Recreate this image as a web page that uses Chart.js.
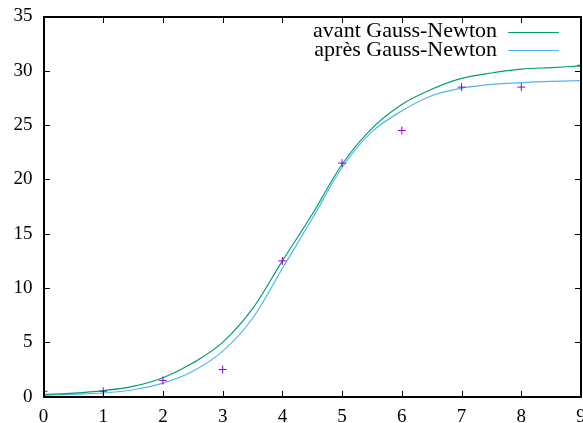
<!DOCTYPE html>
<html>
<head>
<meta charset="utf-8">
<script src="https://cdn.jsdelivr.net/npm/chart.js@4"></script>
<style>
  html, body { margin: 0; padding: 0; background: #fff; overflow: hidden; }
  #wrap { width: 586px; height: 423px; }
</style>
</head>
<body>
<div id="wrap"><canvas id="gn_chart" width="586" height="423"></canvas></div>
<script>
// mesures
let xMes = [0, 1, 2, 3, 4, 5, 6, 7, 8, 9];
let yMes = [0.5, 0.5, 1.5, 2.5, 12.5, 21.5, 24.5, 28.5, 28.5, 30.5];

// courbes lues sur l'image, pas de 0.5
let xCourbe = [0, 0.5, 1, 1.5, 2, 2.5, 3, 3.5, 4, 4.5, 5, 5.5, 6, 6.5, 7, 7.5, 8, 8.5, 9];
let yAvant = [0.2, 0.33, 0.56, 0.95, 1.75, 3.1, 5.0, 8.1, 12.5, 16.8, 21.4, 24.7, 26.9, 28.3, 29.3, 29.8, 30.15, 30.3, 30.45];
let yApres = [0.15, 0.22, 0.34, 0.64, 1.25, 2.35, 4.2, 7.2, 11.8, 16.4, 21.1, 24.4, 26.3, 27.7, 28.4, 28.75, 28.92, 29.03, 29.1];

let xTicks = [1, 2, 3, 4, 5, 6, 7, 8];
let yTicks = [5, 10, 15, 20, 25, 30];

let labels = ['', 'avant Gauss-Newton', 'après Gauss-Newton'];

function pts(xs, ys) {
  let out = [];
  for (let i = 0; i < xs.length; i++) out.push({x: xs[i], y: ys[i]});
  return out;
}

Chart.defaults.font.family = "'Liberation Serif', serif";
Chart.defaults.font.size = 19;
Chart.defaults.color = '#000';

// cadre + graduations vers l'intérieur, tracés en rectangles pleins
let cadre = {
  id: 'cadre',
  afterDraw(chart) {
    let c = chart.ctx, a = chart.chartArea;
    let sx = chart.scales.x, sy = chart.scales.y;
    let l = Math.round(a.left), t = Math.round(a.top);
    let r = Math.round(a.right), b = Math.round(a.bottom);
    c.save();
    c.globalAlpha = 1;
    c.globalCompositeOperation = 'source-over';
    c.fillStyle = '#000000';
    c.fillRect(l - 1, t - 1, r - l + 2, 2);
    c.fillRect(l - 1, b - 1, r - l + 2, 2);
    c.fillRect(l - 1, t - 1, 2, b - t + 2);
    c.fillRect(r - 1, t - 1, 2, b - t + 2);
    xTicks.forEach(v => {
      let px = Math.round(sx.getPixelForValue(v));
      c.fillRect(px, b - 6, 1, 6);
      c.fillRect(px, t, 1, 6);
    });
    yTicks.forEach(v => {
      let py = Math.round(sy.getPixelForValue(v));
      c.fillRect(l, py, 6, 1);
      c.fillRect(r - 6, py, 6, 1);
    });
    c.restore();
  }
};

// légende façon gnuplot : texte à droite, trait après
let legende = {
  id: 'legende',
  afterDraw(chart) {
    let c = chart.ctx;
    c.save();
    c.font = "22px 'Liberation Serif', serif";
    c.textAlign = 'right';
    c.textBaseline = 'middle';
    let rows = [31.5, 50];
    for (let i = 1; i <= 2; i++) {
      let ds = chart.data.datasets[i];
      let y = rows[i - 1];
      c.fillStyle = '#000';
      c.fillText(ds.label, 497, y);
      c.fillStyle = ds.borderColor;
      c.fillRect(508, Math.round(y), 51, 1);
    }
    c.restore();
  }
};

let ctx = document.getElementById('gn_chart');

let data = {
  datasets: [{
    label: labels[0],
    data: pts(xMes, yMes),
    pointStyle: 'cross',
    pointRadius: 4,
    borderColor: '#9400d3',
    borderWidth: 1,
    showLine: false
  }, {
    label: labels[1],
    data: pts(xCourbe, yAvant),
    borderColor: '#009e73',
    borderWidth: 1.2,
    pointRadius: 0,
    showLine: true,
    cubicInterpolationMode: 'monotone'
  }, {
    label: labels[2],
    data: pts(xCourbe, yApres),
    borderColor: '#56b4e9',
    borderWidth: 1.2,
    pointRadius: 0,
    showLine: true,
    cubicInterpolationMode: 'monotone'
  }]
};

// canevas un peu plus large que la fenêtre : le "9" déborde et se retrouve coupé
let options = {
  responsive: false,
  animation: false,
  layout: { padding: { top: 16.5, right: 1.5, left: 0, bottom: 0 } },
  plugins: { legend: { display: false }, tooltip: { enabled: false } },
  scales: {
    x: {
      type: 'linear',
      min: 0, max: 9,
      grid: { display: false, drawTicks: false },
      border: { display: false },
      ticks: { stepSize: 1, padding: 9, maxRotation: 0 },
      afterFit(s) {
        s.height = 26.3;
        s.paddingLeft = 0; s.paddingRight = 0;
        if (s._margins) { s._margins.left = 0; s._margins.right = 0; }
      }
    },
    y: {
      min: 0, max: 35,
      grid: { display: false, drawTicks: false },
      border: { display: false },
      ticks: { stepSize: 5, padding: 11 },
      afterFit(s) {
        s.width = 43.5;
        s.paddingTop = 0; s.paddingBottom = 0;
        if (s._margins) { s._margins.top = 0; s._margins.bottom = 0; }
      }
    }
  }
};

let gn_chart = new Chart(ctx, {
  type: 'scatter',
  data: data,
  options: options,
  plugins: [cadre, legende]
});
</script>
</body>
</html>
